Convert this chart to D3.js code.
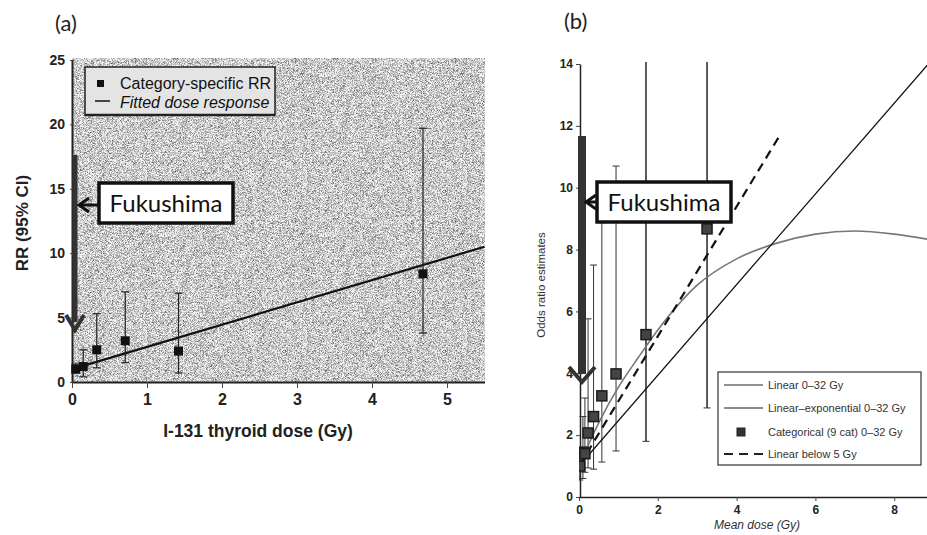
<!DOCTYPE html>
<html>
<head>
<meta charset="utf-8">
<script src="https://cdn.jsdelivr.net/npm/d3@7"></script>
<style>
body { margin: 0; background: #fff; }
svg { display: block; }
</style>
</head>
<body>
<svg width="927" height="535"></svg>
<script>
// panel (a): category-specific RR
var doseA = [0.05, 0.15, 0.33, 0.71, 1.42, 4.68];
var rrA   = [1.0, 1.2, 2.5, 3.2, 2.4, 8.4];
var rrLoA = [0.7, 0.4, 1.1, 1.5, 0.7, 3.8];
var rrHiA = [1.4, 2.5, 5.3, 7.0, 6.9, 19.7];
var fitDoseA = [0, 5.5];
var fitRrA   = [1.0, 10.5];
var ticksXA = [0, 1, 2, 3, 4, 5];
var ticksYA = [0, 5, 10, 15, 20, 25];

// panel (b): odds ratio estimates
var doseB = [0.02, 0.1, 0.15, 0.23, 0.37, 0.58, 0.94, 1.7, 3.25];
var orB   = [1.0, 1.45, 1.4, 2.07, 2.6, 3.27, 3.98, 5.25, 8.67];
var orLoB = [0.55, 0.6, 0.8, 0.94, 0.9, 1.13, 1.49, 1.8, 2.88];
var orHiB = [1.6, 2.6, 3.2, 5.76, 7.5, 9.6, 10.7, 30, 30];
var linDoseB = [0, 9];
var linOrB   = [1.0, 14.2];
var below5DoseB = [0, 5.1];
var below5OrB   = [1.0, 11.7];
var linExpDoseB = [0, 0.5, 1, 1.5, 2, 3, 4, 5, 6, 7, 8, 9];
var linExpOrB   = [1.0, 2.4, 3.55, 4.5, 5.4, 6.85, 7.7, 8.2, 8.5, 8.6, 8.5, 8.3];
var ticksXB = [0, 2, 4, 6, 8];
var ticksYB = [0, 2, 4, 6, 8, 10, 12, 14];
var legendB = ['Linear 0\u201332 Gy', 'Linear\u2013exponential 0\u201332 Gy', 'Categorical (9 cat) 0\u201332 Gy', 'Linear below 5 Gy'];

var narrow = '"Liberation Sans Narrow", "Liberation Sans", Arial, sans-serif';
var sans = '"Liberation Sans", Arial, sans-serif';
var svg = d3.select('svg');
var defs = svg.append('defs');

// stipple texture for panel (a)
var grain = defs.append('filter').attr('id', 'grain')
  .attr('x', 0).attr('y', 0).attr('width', 1).attr('height', 1)
  .attr('color-interpolation-filters', 'sRGB');
grain.append('feTurbulence').attr('type', 'fractalNoise')
  .attr('baseFrequency', 1.6).attr('numOctaves', 2).attr('seed', 7);
grain.append('feColorMatrix').attr('type', 'matrix')
  .attr('values', '1 0 0 0 0  1 0 0 0 0  1 0 0 0 0  0 0 0 0 1');
var ct = grain.append('feComponentTransfer');
['feFuncR', 'feFuncG', 'feFuncB'].forEach(function(c) {
  ct.append(c).attr('type', 'linear').attr('slope', 1.3).attr('intercept', 0.14);
});

defs.append('clipPath').attr('id', 'clipB')
  .append('rect').attr('x', 579).attr('y', 62).attr('width', 350).attr('height', 436);

// ---------- panel (a) ----------
var xA = d3.scaleLinear().domain([0, 5.5]).range([72, 484.5]);
var yA = d3.scaleLinear().domain([0, 25]).range([382, 60]);

svg.append('text').attr('x', 55).attr('y', 31).text('(a)')
  .style('font-family', 'Lato, sans-serif').style('font-size', '22px').style('fill', '#222');

svg.append('rect').attr('x', 72).attr('y', 58).attr('width', 413).attr('height', 324)
  .attr('filter', 'url(#grain)').attr('fill', '#bbb');

var gA = svg.append('g');

gA.append('g').attr('transform', 'translate(72,0)')
  .call(d3.axisLeft(yA).tickValues(ticksYA).tickFormat(d3.format('d')).tickSize(3).tickSizeOuter(0))
  .call(function(g) {
    g.select('.domain').attr('stroke', '#222').attr('stroke-width', 2);
    g.selectAll('.tick line').attr('stroke', '#444').attr('x2', 2).attr('x1', -2);
    g.selectAll('text').attr('x', -7).style('font-family', narrow).style('font-size', '14px')
      .style('font-weight', 'bold').style('fill', '#222');
  });

gA.append('g').attr('transform', 'translate(0,382)')
  .call(d3.axisBottom(xA).tickValues(ticksXA).tickFormat(d3.format('d')).tickSize(6).tickSizeOuter(0))
  .call(function(g) {
    g.select('.domain').attr('stroke', '#222').attr('stroke-width', 2);
    g.selectAll('.tick line').attr('stroke', '#444');
    g.selectAll('text').attr('y', 12).style('font-family', narrow).style('font-size', '16px')
      .style('font-weight', 'bold').style('fill', '#222');
  });

svg.append('text').attr('transform', 'translate(28,223) rotate(-90)')
  .attr('text-anchor', 'middle').text('RR (95% CI)')
  .style('font-family', narrow).style('font-size', '17px').style('font-weight', 'bold').style('fill', '#222');

svg.append('text').attr('x', 258).attr('y', 437).attr('text-anchor', 'middle').text('I-131 thyroid dose (Gy)')
  .style('font-family', narrow).style('font-size', '17.5px').style('font-weight', 'bold').style('fill', '#222');

// fitted line
gA.append('line')
  .attr('x1', xA(fitDoseA[0])).attr('y1', yA(fitRrA[0]))
  .attr('x2', xA(fitDoseA[1])).attr('y2', yA(fitRrA[1]))
  .attr('stroke', '#111').attr('stroke-width', 2.2);

// error bars + squares
var ptsA = doseA.map(function(d, i) { return {d: d, v: rrA[i], lo: rrLoA[i], hi: rrHiA[i]}; });
var eb = gA.selectAll('.ebA').data(ptsA).enter().append('g');
eb.append('line')
  .attr('x1', function(p) { return xA(p.d); }).attr('x2', function(p) { return xA(p.d); })
  .attr('y1', function(p) { return yA(p.lo); }).attr('y2', function(p) { return yA(p.hi); })
  .attr('stroke', '#222').attr('stroke-width', 1.2);
['lo', 'hi'].forEach(function(k) {
  eb.append('line')
    .attr('x1', function(p) { return xA(p.d) - 4; }).attr('x2', function(p) { return xA(p.d) + 4; })
    .attr('y1', function(p) { return yA(p[k]); }).attr('y2', function(p) { return yA(p[k]); })
    .attr('stroke', '#222').attr('stroke-width', 1.2);
});
gA.selectAll('.sqA').data(ptsA).enter().append('rect')
  .attr('x', function(p) { return xA(p.d) - 4.5; }).attr('y', function(p) { return yA(p.v) - 4.5; })
  .attr('width', 9).attr('height', 9).attr('fill', '#111');

// legend (a)
svg.append('rect').attr('x', 85).attr('y', 67).attr('width', 190).attr('height', 48)
  .attr('fill', '#e4e4e4').attr('stroke', '#222').attr('stroke-width', 1.5);
svg.append('line').attr('x1', 85).attr('x2', 275).attr('y1', 115).attr('y2', 115)
  .attr('stroke', '#222').attr('stroke-width', 2.5);
svg.append('rect').attr('x', 97).attr('y', 80).attr('width', 7).attr('height', 7).attr('fill', '#111');
svg.append('line').attr('x1', 95).attr('x2', 110).attr('y1', 101).attr('y2', 101)
  .attr('stroke', '#111').attr('stroke-width', 1.5);
svg.append('text').attr('x', 120).attr('y', 89).text('Category-specific RR')
  .style('font-family', narrow).style('font-size', '16px').style('fill', '#111');
svg.append('text').attr('x', 120).attr('y', 108).text('Fitted dose response')
  .style('font-family', narrow).style('font-size', '16px').style('font-style', 'italic').style('fill', '#111');

// Fukushima annotation
function fukushima(barX, barW, barTop, tipY, chevW, boxX, boxY, arrowY, arrowTip) {
  svg.append('rect').attr('x', barX - barW / 2).attr('y', barTop)
    .attr('width', barW).attr('height', tipY - 8 - barTop).attr('fill', '#333');
  svg.append('path')
    .attr('d', 'M' + (barX - chevW) + ',' + (tipY - 15) + 'L' + barX + ',' + tipY + 'L' + (barX + chevW) + ',' + (tipY - 15))
    .attr('fill', 'none').attr('stroke', '#333').attr('stroke-width', 4);
  svg.append('line').attr('x1', boxX).attr('x2', arrowTip).attr('y1', arrowY).attr('y2', arrowY)
    .attr('stroke', '#111').attr('stroke-width', 3);
  svg.append('path')
    .attr('d', 'M' + (arrowTip + 10) + ',' + (arrowY - 7) + 'L' + arrowTip + ',' + arrowY + 'L' + (arrowTip + 10) + ',' + (arrowY + 7))
    .attr('fill', 'none').attr('stroke', '#111').attr('stroke-width', 3);
  svg.append('rect').attr('x', boxX).attr('y', boxY).attr('width', 134).attr('height', 40)
    .attr('fill', '#fff').attr('stroke', '#111').attr('stroke-width', 3.5);
  svg.append('text').attr('x', boxX + 67).attr('y', boxY + 29).attr('text-anchor', 'middle').text('Fukushima')
    .style('font-family', 'Lato, "Open Sans", sans-serif').style('font-size', '24px').style('fill', '#111');
}
fukushima(75, 5, 155, 330, 9, 99, 183, 205, 79);

// ---------- panel (b) ----------
var xB = d3.scaleLinear().domain([0, 9]).range([579, 933.6]);
var yB = d3.scaleLinear().domain([0, 14]).range([497, 64]);

svg.append('text').attr('x', 564).attr('y', 29).text('(b)')
  .style('font-family', 'Lato, sans-serif').style('font-size', '22px').style('fill', '#222');

var gB = svg.append('g');
gB.append('g').attr('transform', 'translate(580,0)')
  .call(d3.axisLeft(yB).tickValues(ticksYB).tickSize(4).tickSizeOuter(0))
  .call(function(g) {
    g.select('.domain').attr('stroke', '#222').attr('stroke-width', 1.5);
    g.selectAll('.tick line').attr('stroke', '#444');
    g.selectAll('text').attr('x', -7).style('font-family', sans).style('font-size', '12px')
      .style('font-weight', 'bold').style('fill', '#222');
  });
gB.append('g').attr('transform', 'translate(0,497)')
  .call(d3.axisBottom(xB).tickValues(ticksXB).tickSize(4).tickSizeOuter(0))
  .call(function(g) {
    g.select('.domain').attr('stroke', '#222').attr('stroke-width', 1.5);
    g.selectAll('.tick line').attr('stroke', '#444');
    g.selectAll('text').attr('y', 8).style('font-family', sans).style('font-size', '12px')
      .style('font-weight', 'bold').style('fill', '#222');
  });

svg.append('text').attr('transform', 'translate(545,285) rotate(-90)').attr('text-anchor', 'middle')
  .text('Odds ratio estimates')
  .style('font-family', sans).style('font-size', '11.5px').style('fill', '#333');
svg.append('text').attr('x', 757).attr('y', 529).attr('text-anchor', 'middle').text('Mean dose (Gy)')
  .style('font-family', sans).style('font-size', '12px').style('font-style', 'italic').style('fill', '#333');

var plotB = gB.append('g').attr('clip-path', 'url(#clipB)');

// error bars
var ptsB = doseB.map(function(d, i) { return {d: d, v: orB[i], lo: orLoB[i], hi: orHiB[i]}; });
var ebB = plotB.selectAll('.ebB').data(ptsB).enter().append('g');
ebB.append('line')
  .attr('x1', function(p) { return xB(p.d); }).attr('x2', function(p) { return xB(p.d); })
  .attr('y1', function(p) { return yB(p.lo); }).attr('y2', function(p) { return yB(p.hi); })
  .attr('stroke', '#333').attr('stroke-width', function(p) { return p.hi > 14 ? 1.6 : 1; });
ebB.append('line')
  .attr('x1', function(p) { return xB(p.d) - 3.5; }).attr('x2', function(p) { return xB(p.d) + 3.5; })
  .attr('y1', function(p) { return yB(p.lo); }).attr('y2', function(p) { return yB(p.lo); })
  .attr('stroke', '#333').attr('stroke-width', 1);
ebB.filter(function(p) { return p.hi < 14; }).append('line')
  .attr('x1', function(p) { return xB(p.d) - 3.5; }).attr('x2', function(p) { return xB(p.d) + 3.5; })
  .attr('y1', function(p) { return yB(p.hi); }).attr('y2', function(p) { return yB(p.hi); })
  .attr('stroke', '#333').attr('stroke-width', 1);

// fitted curves
function lineB(curve) {
  return d3.line().x(function(p) { return xB(p[0]); }).y(function(p) { return yB(p[1]); }).curve(curve);
}
plotB.append('path').datum(linExpDoseB.map(function(d, i) { return [d, linExpOrB[i]]; }))
  .attr('d', lineB(d3.curveMonotoneX)).attr('fill', 'none')
  .attr('stroke', '#777').attr('stroke-width', 1.6);
plotB.append('path').datum(linDoseB.map(function(d, i) { return [d, linOrB[i]]; }))
  .attr('d', lineB(d3.curveLinear))
  .attr('fill', 'none').attr('stroke', '#111').attr('stroke-width', 1.3);
plotB.append('path').datum(below5DoseB.map(function(d, i) { return [d, below5OrB[i]]; }))
  .attr('d', lineB(d3.curveLinear))
  .attr('fill', 'none').attr('stroke', '#111').attr('stroke-width', 2.2).attr('stroke-dasharray', '9,6');

// category squares
plotB.selectAll('.sqB').data(ptsB).enter().append('rect')
  .attr('x', function(p) { return xB(p.d) - 5; }).attr('y', function(p) { return yB(p.v) - 5; })
  .attr('width', 10).attr('height', 10)
  .attr('fill', '#444').attr('stroke', '#1a1a1a').attr('stroke-width', 1.5);

// legend (b)
svg.append('rect').attr('x', 718).attr('y', 372).attr('width', 203).attr('height', 93)
  .attr('fill', '#fff').attr('stroke', '#333').attr('stroke-width', 1.2);
var legY = [385, 408, 432, 454];
svg.append('line').attr('x1', 724).attr('x2', 763).attr('y1', legY[0]).attr('y2', legY[0])
  .attr('stroke', '#222').attr('stroke-width', 1.2);
svg.append('line').attr('x1', 724).attr('x2', 763).attr('y1', legY[1]).attr('y2', legY[1])
  .attr('stroke', '#666').attr('stroke-width', 1.4);
svg.append('rect').attr('x', 737).attr('y', legY[2] - 4).attr('width', 8).attr('height', 8)
  .attr('fill', '#333').attr('stroke', '#222');
svg.append('line').attr('x1', 724).attr('x2', 763).attr('y1', legY[3]).attr('y2', legY[3])
  .attr('stroke', '#222').attr('stroke-width', 1.8).attr('stroke-dasharray', '9,6');
svg.selectAll('.legB').data(legendB).enter().append('text')
  .attr('x', 768).attr('y', function(d, i) { return legY[i] + 4; }).text(function(d) { return d; })
  .style('font-family', sans).style('font-size', '11px').style('fill', '#333');

fukushima(582, 8, 136, 382, 13, 597, 182, 202, 586);
</script>
</body>
</html>
